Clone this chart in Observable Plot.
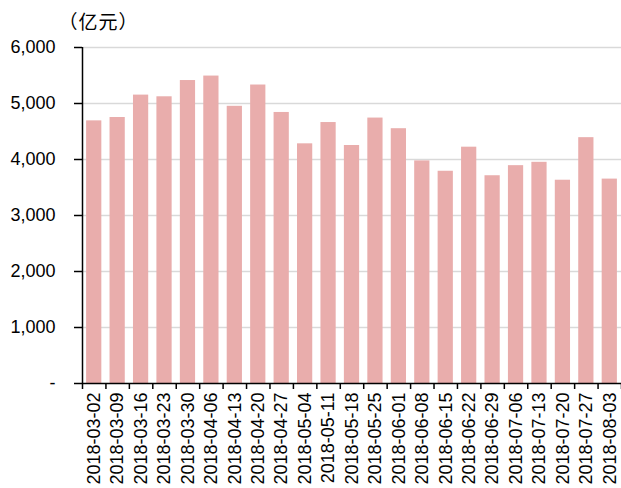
<!DOCTYPE html>
<html>
<head>
<meta charset="utf-8">
<script src="https://cdn.jsdelivr.net/npm/d3@7"></script>
<script src="https://cdn.jsdelivr.net/npm/@observablehq/plot@0.6"></script>
<style>
  html, body { margin: 0; padding: 0; background: #fff; }
  .unit text { letter-spacing: 1px; }
</style>
</head>
<body>
<div id="chart"></div>
<script>
const dates = ["2018-03-02","2018-03-09","2018-03-16","2018-03-23","2018-03-30","2018-04-06","2018-04-13","2018-04-20","2018-04-27","2018-05-04","2018-05-11","2018-05-18","2018-05-25","2018-06-01","2018-06-08","2018-06-15","2018-06-22","2018-06-29","2018-07-06","2018-07-13","2018-07-20","2018-07-27","2018-08-03"];
const values = [4690,4750,5150,5120,5410,5490,4950,5330,4840,4280,4660,4250,4740,4550,3975,3790,4220,3710,3890,3950,3630,4390,3650];
const yTicks = [0,1000,2000,3000,4000,5000,6000];
const unitLabel = "（亿元）";

const data = dates.map((d, i) => ({date: d, value: values[i]}));

const W = 621, H = 488, mL = 82, mR = 0, mT = 47, mB = 105;
const step = (W - mL - mR) / dates.length;
const fmt = d => d === 0 ? "-" : d3.format(",")(d);

const chart = Plot.plot({
  width: W, height: H,
  marginLeft: mL, marginRight: mR, marginTop: mT, marginBottom: mB,
  style: {fontFamily: "'Liberation Sans', Arial, sans-serif", fontSize: "18px", color: "#000", background: "#fff"},
  x: {type: "band", domain: dates, paddingInner: 0.35, paddingOuter: 0.175, round: false, label: null},
  y: {domain: [0, 6000], label: null},
  marks: [
    Plot.ruleY(yTicks.filter(d => d > 0), {stroke: "#d9d9d9", strokeWidth: 1.5}),
    Plot.barY(data, {x: "date", y: "value", fill: "#e9adac"}),
    Plot.ruleY([0], {stroke: "#000", strokeWidth: 1.5}),
    Plot.ruleX([dates[0]], {y1: 0, y2: 6000, dx: -step / 2, stroke: "#000", strokeWidth: 1.5}),
    Plot.axisY({ticks: yTicks, tickSize: 8, tickPadding: 19, tickFormat: fmt, fontSize: 18, strokeWidth: 1.5, label: null}),
    Plot.axisX({tickSize: 6, dx: -step / 2, tickFormat: () => "", strokeWidth: 1.5, label: null}),
    Plot.axisX([dates[dates.length - 1]], {tickSize: 6, dx: step / 2, tickFormat: () => "", strokeWidth: 1.5, label: null}),
    Plot.axisX({tickSize: 0, tickRotate: -90, tickPadding: 9, fontSize: 18, label: null}),
    Plot.text([unitLabel], {frameAnchor: "top-left", dx: 16, dy: -32, text: d => d, textAnchor: "middle", fontSize: 19, className: "unit", fontFamily: "'Noto Sans CJK SC', sans-serif"})
  ]
});
document.getElementById("chart").appendChild(chart);
</script>
</body>
</html>
